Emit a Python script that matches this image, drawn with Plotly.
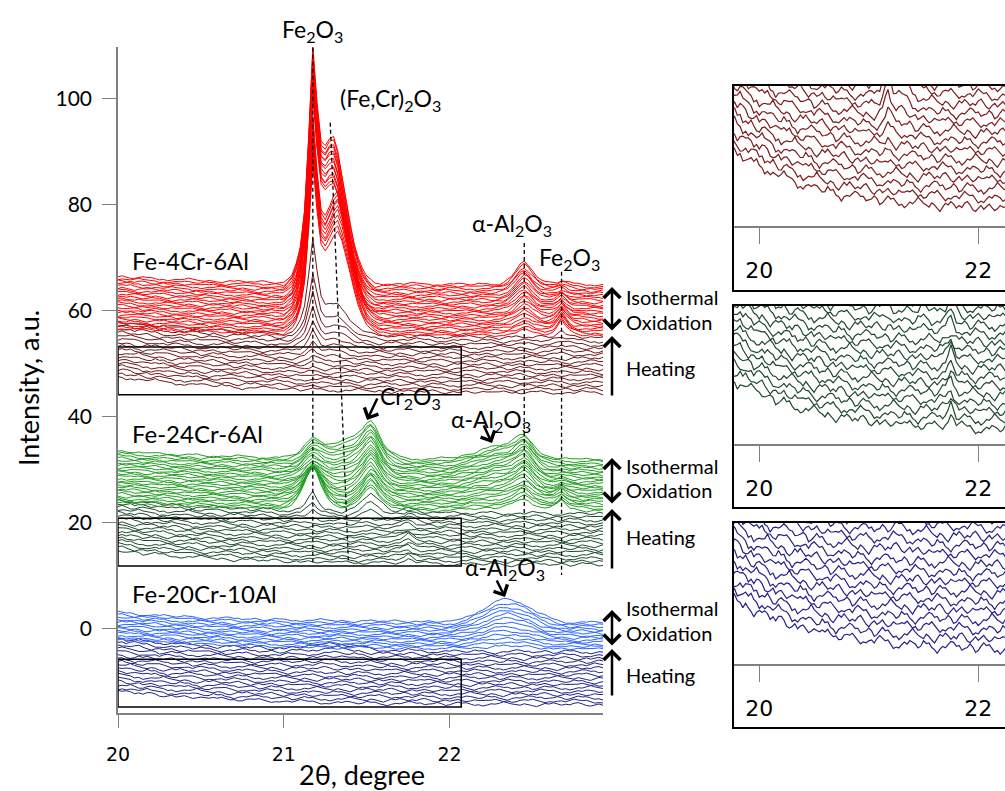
import numpy as np
import plotly.graph_objects as go

W, H = 1005, 791

# ---------------- data grid ----------------
two_theta_start = 19.75
two_theta_step = 0.025
n_points = 128
two_theta = np.round(two_theta_start + two_theta_step * np.arange(n_points), 4)

decay = [1.40, 1.31, 1.22, 1.14, 1.07, 1.00, 0.94, 0.88, 0.82, 0.77,
         0.72, 0.67, 0.63, 0.59, 0.55, 0.51, 0.48, 0.45, 0.42, 0.39,
         0.37, 0.34, 0.32, 0.30, 0.28, 0.26, 0.25, 0.23, 0.21, 0.20,
         0.19, 0.18, 0.17, 0.15, 0.14, 0.14, 0.13, 0.12, 0.11, 0.10,
         0.10, 0.09, 0.08, 0.08, 0.07, 0.07, 0.06, 0.06, 0.05, 0.05,
         0.05, 0.04, 0.04, 0.04, 0.03, 0.03, 0.03, 0.03, 0.02, 0.02,
         0.02, 0.02, 0.02, 0.01]

wiggle = [0.1, 0.3, 0.2, 0.5, 0.1, -0.2, 0.0, -0.4, -0.3, 0.2, 0.4, 0.3, 0.6, 0.2, -0.1,
          -0.5, -0.2, -0.3, 0.0, 0.1, -0.2, 0.3, 0.7, 0.4, 0.2, 0.3, -0.1, -0.6, -0.4, -0.5,
          -0.1, 0.2, 0.0, 0.4, 0.3, 0.1, -0.3, -0.1, 0.5, 0.2, 0.3, -0.2, -0.4, -0.8, -0.3,
          0.0, -0.1, 0.3, 0.6, 0.5, 0.1, 0.2, -0.3, -0.1, 0.0, 0.4, 0.1, -0.5, -0.3, 0.2,
          0.6, 0.3, 0.4, 0.0, -0.4, -0.2, -0.6, -0.3, 0.1, 0.0, 0.3, 0.8, 0.4, 0.1, -0.1,
          -0.3, 0.2, 0.0, -0.4, -0.7, -0.2, 0.3, 0.1, 0.5, 0.2, -0.2, 0.1, -0.1, 0.4, 0.6,
          0.2, -0.3, -0.5, -0.1, 0.2, -0.2, 0.1, 0.4, 0.0, -0.3, -0.1, 0.3, 0.1]

# peak shapes (half profiles, in grid steps of 0.025 deg)
sharp = [1.0, 0.62, 0.30, 0.15, 0.08, 0.04, 0.02]
mid = [1.0, 0.85, 0.60, 0.38, 0.22, 0.12, 0.06, 0.03]
broad = [1.0, 0.93, 0.78, 0.60, 0.43, 0.29, 0.18, 0.10, 0.05, 0.02]
hump = [1.0, 0.98, 0.93, 0.86, 0.77, 0.67, 0.56, 0.45, 0.35, 0.26, 0.18, 0.12, 0.07, 0.04, 0.02]

# ---------------- Fe-4Cr-6Al ----------------
red_heat_start, red_heat_step, red_heat_n, red_heat_drop = 44.5, 0.65, 17, 3.0
red_iso_start, red_iso_step, red_iso_n, red_iso_drop = 55.3, 0.42, 24, 1.5
red_heat_fe2o3 = [0, 0, 0, 0, 0, 0.2, 0.4, 0.7, 1.1, 1.7, 2.6, 3.8, 5.2, 7.0, 9.0, 11.5, 17.0]
red_heat_fecr = [0, 0, 0, 0, 0, 0.1, 0.1, 0.2, 0.3, 0.5, 0.8, 1.2, 1.7, 2.3, 3.0, 3.8, 5.5]
red_heat_fe2o3_b = [0, 0, 0, 0, 0, 0, 0, 0, 0, 0, 0, 0.2, 0.3, 0.5, 0.7, 1.0, 1.3]
red_iso_fe2o3 = [29, 29.5, 30, 30.5, 31, 31.5, 32, 32.5, 33, 33.5, 34, 34, 34.5, 34.5, 35, 35,
                 35.5, 35.5, 36, 36, 36.5, 36.5, 37, 37]
red_iso_fecr = [19, 19.5, 20, 20.5, 21, 21.5, 22, 22, 22.5, 22.5, 23, 23, 23.5, 23.5, 24, 24,
                24.5, 24.5, 25, 25, 25.5, 25.5, 26, 26]
red_iso_fecr_pos = [21.325] * 10 + [21.30] * 14
red_iso_al2o3 = [1.0, 1.2, 1.4, 1.6, 1.8, 2.0, 2.2, 2.4, 2.6, 2.8, 3.0, 3.1, 3.2, 3.3, 3.4, 3.5,
                 3.6, 3.7, 3.8, 3.9, 4.0, 4.1, 4.2, 4.2]
red_iso_fe2o3_b = [3.0, 3.0, 2.9, 2.8, 2.7, 2.6, 2.5, 2.4, 2.3, 2.2, 2.1, 2.0, 1.9, 1.8, 1.7,
                   1.6, 1.5, 1.4, 1.3, 1.2, 1.1, 1.0, 0.9, 0.8]

# ---------------- Fe-24Cr-6Al ----------------
grn_heat_start, grn_heat_step, grn_heat_n, grn_heat_drop = 12.1, 0.60, 17, 2.6
grn_iso_start, grn_iso_step, grn_iso_n, grn_iso_drop = 22.3, 0.42, 24, 1.5
grn_heat_spike = [0.9, 1.0, 1.1, 0.8, 1.2, 1.0, 0.9, 1.1, 1.3, 1.0, 0.8, 1.1, 1.0, 1.2, 0.9,
                  1.0, 1.1]
grn_heat_fe2o3 = [0] * 11 + [0.3, 0.5, 0.8, 1.4, 2.2, 3.5]
grn_heat_cr2o3 = [0] * 11 + [0.3, 0.5, 0.8, 1.4, 2.3, 3.5]
grn_iso_fe2o3 = [8, 7.6, 7.2, 6.8, 6.4, 6.0, 5.6, 5.2, 4.8, 4.4, 4.0, 3.6, 3.4, 3.2, 3.0, 3.0,
                 3.0, 3.0, 3.0, 3.0, 3.0, 3.0, 3.0, 3.0]
grn_iso_cr2o3 = [4.5, 4.5, 4.6, 4.6, 4.7, 4.7, 4.8, 4.8, 4.9, 4.9, 5.0, 5.0, 5.0, 5.0, 5.0,
                 5.0, 5.0, 5.0, 5.0, 5.0, 5.0, 5.0, 5.0, 5.0]
grn_iso_hump = [0, 0, 0, 0, 0, 0, 0, 0, 0.2, 0.4, 0.6, 0.8, 1.0, 1.2, 1.4, 1.6, 1.8, 2.0,
                2.2, 2.4, 2.6, 2.8, 3.0, 3.2]
grn_iso_al_hump = [0.5, 0.6, 0.7, 0.8, 0.9, 1.0, 1.1, 1.2, 1.3, 1.4, 1.5, 1.6, 1.7, 1.8, 1.9,
                   2.0, 2.0, 2.1, 2.1, 2.2, 2.2, 2.3, 2.3, 2.4]
grn_iso_al2o3 = [2.0, 2.1, 2.2, 2.3, 2.4, 2.5, 2.6, 2.7, 2.8, 2.9, 3.0, 3.0, 3.1, 3.1, 3.2,
                 3.2, 3.3, 3.3, 3.4, 3.4, 3.5, 3.5, 3.5, 3.5]
grn_iso_fe2o3_b = [2.0, 2.0, 1.9, 1.8, 1.7, 1.6, 1.5, 1.3, 1.1, 0.9, 0.8, 0.7, 0.6, 0.5, 0.5,
                   0.4, 0.4, 0.3, 0.3, 0.3, 0.3, 0.3, 0.3, 0.3]

# ---------------- Fe-20Cr-10Al ----------------
blu_heat_start, blu_heat_step, blu_heat_n, blu_heat_drop = -14.3, 0.62, 17, 2.5
blu_iso_start, blu_iso_step, blu_iso_n, blu_iso_drop = -3.8, 0.42, 13, 1.8
blu_heat_hump = [0] * 10 + [0.2, 0.3, 0.4, 0.6, 0.7, 0.9, 1.1]
blu_iso_al2o3 = [0.5, 0.8, 1.1, 1.4, 1.7, 2.0, 2.4, 2.8, 3.1, 3.4, 3.7, 4.0, 4.3]

# ---------------- build spectra ----------------
bg = np.repeat(np.array(decay), 2)[:n_points]
wig = np.array(wiggle)
L = len(wig)


def add_peak(y, center, kernel, h):
    c = int(round((center - two_theta_start) / two_theta_step))
    for d, v in enumerate(kernel):
        for idx in {c - d, c + d}:
            if 0 <= idx < n_points:
                y[idx] += h * v


def build(start, step, n, drop, amp, seed, peaks):
    lines = []
    for i in range(n):
        y = start + step * i + drop * bg
        s = (i * 37 + seed) % L
        y = y + amp * wig[(np.arange(n_points) + s) % L]
        for center, kernel, heights in peaks:
            c = center[i] if isinstance(center, list) else center
            add_peak(y, c, kernel, heights[i])
        lines.append(y)
    return lines


red_heat = build(red_heat_start, red_heat_step, red_heat_n, red_heat_drop, 0.6, 3,
                 [(21.175, sharp, red_heat_fe2o3), (21.325, broad, red_heat_fecr),
                  (22.675, sharp, red_heat_fe2o3_b)])
red_iso = build(red_iso_start, red_iso_step, red_iso_n, red_iso_drop, 0.45, 17,
                [(21.175, sharp, red_iso_fe2o3), (red_iso_fecr_pos, broad, red_iso_fecr),
                 (22.45, mid, red_iso_al2o3), (22.675, sharp, red_iso_fe2o3_b)])
grn_heat = build(grn_heat_start, grn_heat_step, grn_heat_n, grn_heat_drop, 0.6, 41,
                 [(21.75, sharp, grn_heat_spike), (21.175, sharp, grn_heat_fe2o3),
                  (21.525, mid, grn_heat_cr2o3)])
grn_iso = build(grn_iso_start, grn_iso_step, grn_iso_n, grn_iso_drop, 0.45, 59,
                [(21.175, mid, grn_iso_fe2o3), (21.525, mid, grn_iso_cr2o3),
                 (21.40, hump, grn_iso_hump), (22.30, hump, grn_iso_al_hump),
                 (22.45, mid, grn_iso_al2o3), (22.675, sharp, grn_iso_fe2o3_b)])
blu_heat = build(blu_heat_start, blu_heat_step, blu_heat_n, blu_heat_drop, 0.6, 71,
                 [(21.30, hump, blu_heat_hump)])
blu_iso = build(blu_iso_start, blu_iso_step, blu_iso_n, blu_iso_drop, 0.45, 83,
                [(22.35, hump, blu_iso_al2o3)])

fig = go.Figure()


def add_group(lines, color, xa='x', ya='y', width=1.0):
    xs, ys = [], []
    for y in lines:
        xs += list(two_theta) + [None]
        ys += list(np.round(y, 3)) + [None]
    fig.add_trace(go.Scatter(x=xs, y=ys, mode='lines', xaxis=xa, yaxis=ya,
                             line=dict(color=color, width=width), hoverinfo='skip'))


c_red, c_dred = '#ff0000', '#6e1616'
c_grn, c_dgrn = '#1f9e1f', '#1d4a2b'
c_blu, c_dblu = '#2b63ff', '#1e2383'

add_group(blu_heat, c_dblu)
add_group(blu_iso, c_blu)
add_group(grn_heat, c_dgrn)
add_group(grn_iso, c_grn)
add_group(red_heat, c_dred)
add_group(red_iso, c_red)

# insets (heating part only)
add_group(red_heat, '#7a1c1c', 'x2', 'y2', 1.2)
add_group(grn_heat, '#1f4a2c', 'x3', 'y3', 1.2)
add_group(blu_heat, '#222288', 'x4', 'y4', 1.2)


def px_x(p):
    return p / W


def px_y(p):
    return 1 - p / H


axis_gray = '#808080'
fig.update_layout(
    width=W, height=H, margin=dict(l=0, r=0, t=0, b=0, autoexpand=False),
    paper_bgcolor='white', plot_bgcolor='white', showlegend=False,
    xaxis=dict(domain=[px_x(118), px_x(603)], range=[20, 22.925], showline=True,
               linecolor=axis_gray, linewidth=1.5, ticks='outside', ticklen=13,
               tickcolor=axis_gray, tickwidth=1.2, tickvals=[20, 21, 22],
               tickfont=dict(family='DejaVu Sans', size=19, color='black'),
               ticklabelstandoff=10, showgrid=False, zeroline=False, anchor='y',
               automargin=False),
    yaxis=dict(domain=[px_y(713), px_y(47)], range=[-15.85, 109.8], showline=True,
               linecolor=axis_gray, linewidth=1.5, ticks='outside', ticklen=14,
               tickcolor=axis_gray, tickwidth=1.2, tickvals=[0, 20, 40, 60, 80, 100],
               tickfont=dict(family='Lato', size=21, color='black'),
               ticklabelstandoff=6, showgrid=False, zeroline=False, anchor='x',
               automargin=False),
)

inset_specs = [(2, 85, 226, [43.4, 53.2]), (3, 305, 444, [11.2, 20.9]), (4, 522, 664, [-15.2, -5.7])]
for k, top, bot, yr in inset_specs:
    fig.layout['xaxis%d' % k] = dict(domain=[px_x(733), 1.0], range=[19.76, 22.244],
                                      anchor='y%d' % k, showline=True, linecolor=axis_gray,
                                      linewidth=1.5, ticks='outside', ticklen=16,
                                      tickcolor=axis_gray, tickwidth=1.2, tickvals=[20, 22],
                                      tickfont=dict(family='DejaVu Sans', size=22, color='black'),
                                      ticklabelstandoff=8, showgrid=False, zeroline=False,
                                      automargin=False)
    fig.layout['yaxis%d' % k] = dict(domain=[px_y(bot), px_y(top)], range=yr, anchor='x%d' % k,
                                      visible=False, automargin=False)

shapes = []
# inset frames
for top, bottom in [(85, 291), (305, 508), (522, 728)]:
    shapes.append(dict(type='rect', xref='paper', yref='paper', x0=px_x(733), x1=1.05,
                       y0=px_y(bottom), y1=px_y(top), line=dict(color='black', width=2)))
# zoom rectangles on main plot
for y0, y1 in [(44.2, 53.2), (11.9, 20.9), (-14.7, -5.7)]:
    shapes.append(dict(type='rect', xref='x', yref='y', x0=20.0, x1=22.07, y0=y0, y1=y1,
                       line=dict(color='black', width=1.5)))
# peak guide lines
guides = [((21.175, 111.0), (21.175, 12.6)), ((21.28, 95.5), (21.39, 12.5)),
          ((22.45, 72.8), (22.45, 13.0)), ((22.675, 67.4), (22.675, 10.2))]
for (xa, ya), (xb, yb) in guides:
    shapes.append(dict(type='line', xref='x', yref='y', x0=xa, y0=ya, x1=xb, y1=yb,
                       line=dict(color='black', width=1.3, dash='4px,3px')))
fig.update_layout(shapes=shapes)

ann = []
F = 'Lato'


def text(t, x, y, size=22, xanchor='center'):
    ann.append(dict(text=t, x=px_x(x), y=px_y(y), xref='paper', yref='paper', showarrow=False,
                    xanchor=xanchor, yanchor='middle', font=dict(family=F, size=size, color='black')))


def arrow(head, tail, width=2.5, both=False, size=1.3):
    d = dict(text='', x=px_x(head[0]), y=px_y(head[1]), xref='paper', yref='paper',
             ax=tail[0] - head[0], ay=tail[1] - head[1], axref='pixel', ayref='pixel',
             showarrow=True, arrowhead=4, arrowsize=size, arrowwidth=width, arrowcolor='black')
    if both:
        d.update(arrowside='end+start', startarrowhead=4, startarrowsize=size)
    ann.append(d)


text('Fe<sub>2</sub>O<sub>3</sub>', 312, 30, 23)
text('(Fe,Cr)<sub>2</sub>O<sub>3</sub>', 390, 99, 23)
text('α-Al<sub>2</sub>O<sub>3</sub>', 512, 224, 23)
text('Fe<sub>2</sub>O<sub>3</sub>', 569, 258, 23)
text('Cr<sub>2</sub>O<sub>3</sub>', 410, 397, 23)
text('α-Al<sub>2</sub>O<sub>3</sub>', 491, 420, 23)
text('α-Al<sub>2</sub>O<sub>3</sub>', 505, 568, 23)
text('Fe-4Cr-6Al', 130, 261, 24, 'left')
text('Fe-24Cr-6Al', 130, 433, 24, 'left')
text('Fe-20Cr-10Al', 130, 593, 24, 'left')

arrow((367, 420), (378, 397), 2.5, size=1.2)
arrow((492, 443), (483, 424), 2.5, size=1.2)
arrow((505, 597), (496, 579), 2.5, size=1.2)

for iso_y, ox_y, heat_y, d_top, d_bot, up_tail, up_head in [
        (297, 322, 368, 287, 332, 397, 336),
        (466, 490, 537, 458, 505, 570, 509),
        (608, 633, 675, 610, 647, 697, 649)]:
    text('Isothermal', 624, iso_y, 20, 'left')
    text('Oxidation', 624, ox_y, 20, 'left')
    text('Heating', 624, heat_y, 20, 'left')
    arrow((612, d_top), (612, d_bot), 2.5, both=True)
    arrow((612, up_head), (612, up_tail), 2.5)

# axis titles
ann.append(dict(text='2θ, degree', x=px_x(362), y=px_y(774), xref='paper', yref='paper',
                showarrow=False, xanchor='center', yanchor='middle',
                font=dict(family=F, size=27, color='black')))
ann.append(dict(text='Intensity, a.u.', x=px_x(28), y=px_y(388), xref='paper', yref='paper',
                showarrow=False, xanchor='center', yanchor='middle', textangle=-90,
                font=dict(family=F, size=27, color='black')))
fig.update_layout(annotations=ann)

fig.write_html('out.html', config={'displayModeBar': False},
               post_script="document.body.style.margin='0';document.body.style.overflow='hidden';")
